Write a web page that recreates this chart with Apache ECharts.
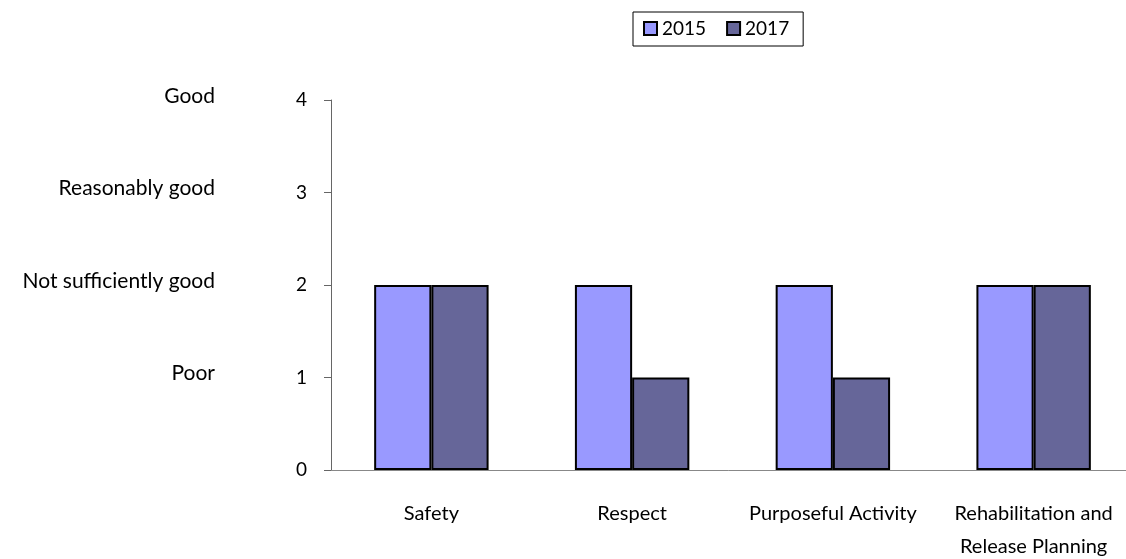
<!DOCTYPE html>
<html><head><meta charset="utf-8">
<script src="https://cdn.jsdelivr.net/npm/echarts@6/dist/echarts.min.js"></script>
<style>html,body{margin:0;padding:0;background:#fff}#c{width:1126px;height:559px}</style>
</head><body><div id="c"></div>
<script>
var categories = ['Safety', 'Respect', 'Purposeful Activity', 'Rehabilitation and\nRelease Planning'];
var series2015 = [2, 2, 2, 2];
var series2017 = [2, 1, 1, 2];
var ratingLabels = ['', 'Poor', 'Not sufficiently good', 'Reasonably good', 'Good'];
var FONT = 'Lato, "DejaVu Sans", sans-serif';
var chart = echarts.init(document.getElementById('c'));
chart.setOption({
  animation: false,
  backgroundColor: '#fff',
  textStyle: {fontFamily: FONT},
  legend: {
    data: ['2015', '2017'],
    left: 633, top: 12,
    padding: [7, 14, 8, 10],
    itemWidth: 13, itemHeight: 13, itemGap: 20,
    borderColor: '#000', borderWidth: 1,
    textStyle: {fontSize: 19, color: '#000', fontFamily: FONT},
    icon: 'rect'
  },
  grid: {left: 331, top: 100, width: 803, height: 370, outerBoundsMode: 'none', containLabel: false},
  xAxis: {
    type: 'category', data: categories,
    axisLine: {lineStyle: {color: '#888', width: 1}},
    axisTick: {show: false},
    axisLabel: {fontSize: 20, color: '#000', margin: 27, lineHeight: 33, fontFamily: FONT, interval: 0}
  },
  yAxis: [{
    type: 'value', min: 0, max: 4, interval: 1,
    axisLine: {show: true, lineStyle: {color: '#666', width: 1}},
    axisTick: {show: true, length: 7, lineStyle: {color: '#666'}},
    splitLine: {show: false},
    axisLabel: {fontSize: 19, color: '#000', margin: 24, fontFamily: FONT}
  }, {
    type: 'value', min: 0, max: 4, interval: 1, position: 'left', offset: 116,
    axisLine: {show: false}, axisTick: {show: false}, splitLine: {show: false},
    axisLabel: {color: '#000', margin: 0,
      formatter: function (v) { return ratingLabels[v] ? '{a|' + ratingLabels[v] + '}' : ''; },
      rich: {a: {fontSize: 21, fontFamily: FONT, color: '#000', lineHeight: 24, padding: [0, 0, 8, 0]}}}
  }],
  series: [{
    name: '2015', type: 'bar', data: series2015, barGap: '0%', barCategoryGap: '43%',
    itemStyle: {color: '#9999FF', borderColor: '#000', borderWidth: 2}
  }, {
    name: '2017', type: 'bar', data: series2017,
    itemStyle: {color: '#666699', borderColor: '#000', borderWidth: 2}
  }]
});
</script></body></html>
